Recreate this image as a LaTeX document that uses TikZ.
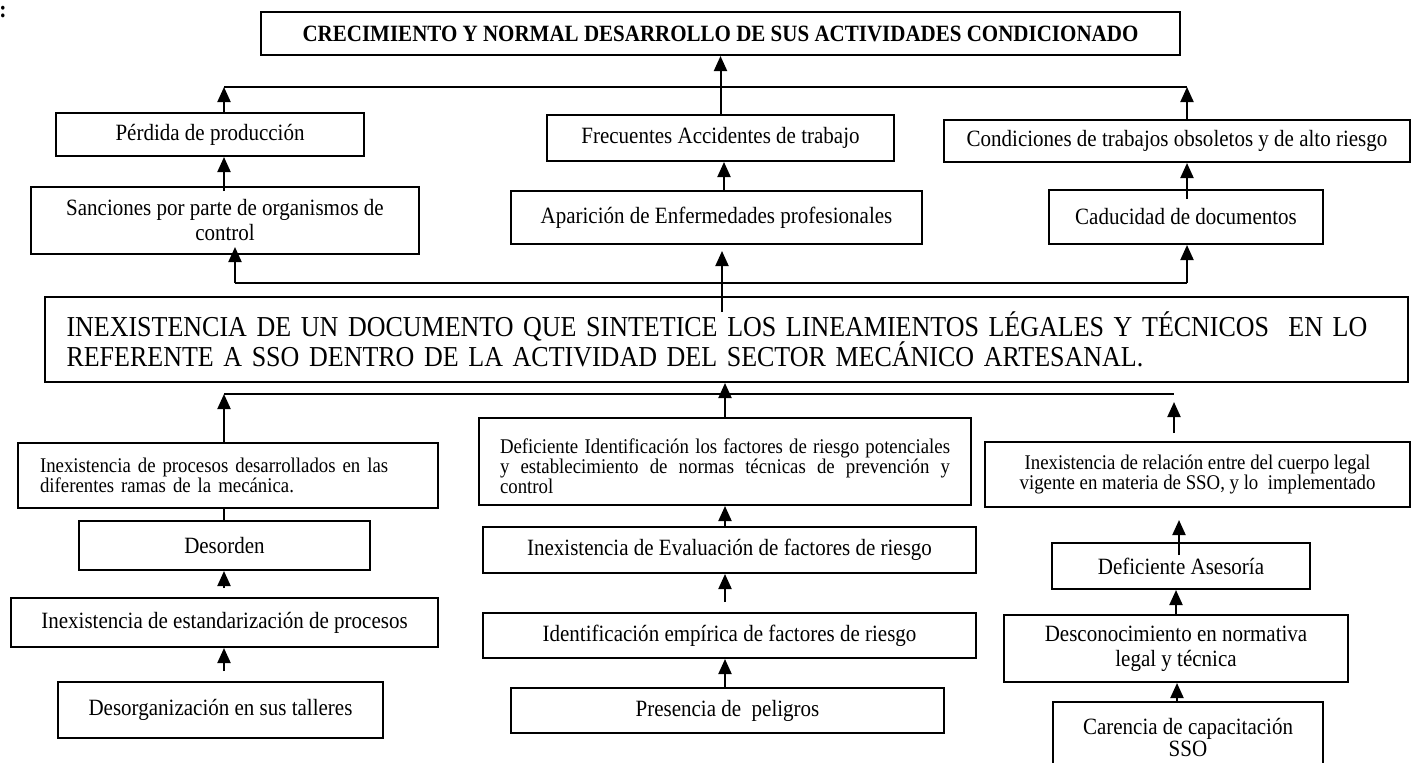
\documentclass[tikz,border=0pt]{standalone}
\usepackage{fontspec}
\setmainfont[FakeStretch=0.9]{Liberation Serif}
\usetikzlibrary{arrows.meta}
\begin{document}
\begin{tikzpicture}[x=0.5pt,y=-0.5pt,
  box/.style={draw,line width=1pt,fill=white,inner sep=0pt,align=center,
    font=\fontsize{11.67}{12.5}\selectfont},
  small/.style={font=\fontsize{10.45}{10}\selectfont},
  big/.style={font=\fontsize{14.44}{15}\selectfont},
  arr/.style={-{Triangle[length=7.5pt,width=6.5pt]},line width=1pt},
  link/.style={line width=0.8pt}]
\clip (0,0) rectangle (1412,762);
\useasboundingbox (0,0) rectangle (1412,762);
\node[font=\bfseries\fontsize{12}{12}\selectfont] (colon) at (3,12) {:};
% effects
\node[box,minimum width=459.5pt,minimum height=21.5pt,font=\bfseries\fontsize{11.67}{12}\selectfont] (top) at (720.5,33.5)
  {CRECIMIENTO Y NORMAL DESARROLLO DE SUS ACTIVIDADES CONDICIONADO};
\node[box,minimum width=154pt,minimum height=21.5pt] (perd) at (210,134.5) {Pérdida de producción};
\node[box,minimum width=194pt,minimum height=33.5pt] (sanc) at (225,220.5) {Sanciones por parte de organismos de\\control};
\node[box,minimum width=173.5pt,minimum height=23pt] (frec) at (720.5,138) {Frecuentes Accidentes de trabajo};
\node[box,minimum width=205.5pt,minimum height=26.5pt] (apar) at (716.5,217.5) {Aparición de Enfermedades profesionales};
\node[box,minimum width=233pt,minimum height=21pt] (cond) at (1177,141) {Condiciones de trabajos obsoletos y de alto riesgo};
\node[box,minimum width=137pt,minimum height=27pt] (cadu) at (1186,217) {Caducidad de documentos};
% main problem
\node[box,big,minimum width=681.5pt,minimum height=42.5pt,text width=660pt,align=left] (main) at (726.5,339.5)
  {INEXISTENCIA DE UN DOCUMENTO QUE SINTETICE LOS LINEAMIENTOS LÉGALES Y TÉCNICOS\ \ EN LO\\REFERENTE A SSO DENTRO DE LA ACTIVIDAD DEL SECTOR MECÁNICO ARTESANAL.};
% causes left
\node[box,small,minimum width=210pt,minimum height=32.5pt,text width=188pt,align=left] (proc) at (228,475.5)
  {Inexistencia de procesos desarrollados en las\\diferentes ramas de la mecánica.};
\node[box,minimum width=145.5pt,minimum height=24.5pt] (desord) at (224.5,545.5) {Desorden};
\node[box,minimum width=213.5pt,minimum height=24.5pt] (estan) at (224.5,622.5) {Inexistencia de estandarización de procesos};
\node[box,minimum width=162.5pt,minimum height=28pt] (desorg) at (220.5,710) {Desorganización en sus talleres};
% causes middle
\node[box,small,minimum width=246pt,minimum height=43.5pt,text width=225pt,align=justify] (defi) at (725,461.5)
  {\rule{0pt}{12pt}Deficiente Identificación los factores de riesgo potenciales\linebreak y establecimiento de normas técnicas de prevención y\linebreak control};
\node[box,minimum width=246.5pt,minimum height=23pt] (eval) at (729.5,550) {Inexistencia de Evaluación de factores de riesgo};
\node[box,minimum width=246.5pt,minimum height=22.5pt] (ident) at (729.5,635.5) {Identificación empírica de factores de riesgo};
\node[box,minimum width=216.5pt,minimum height=22.5pt] (pres) at (727.5,710.5) {Presencia de\ \ peligros};
% causes right
\node[box,small,minimum width=212.5pt,minimum height=32.5pt] (rel) at (1197.5,474.5)
  {Inexistencia de relación entre del cuerpo legal\\vigente en materia de SSO, y lo\ \ implementado};
\node[box,minimum width=129pt,minimum height=23pt] (ases) at (1181,566) {Deficiente Asesoría};
\node[box,minimum width=172pt,minimum height=33.5pt] (desc) at (1176,648.5) {Desconocimiento en normativa\\legal y técnica};
\node[box,minimum width=135pt,minimum height=35pt,font=\fontsize{11.67}{11}\selectfont] (care) at (1188,737) {Carencia de capacitación\\SSO};
% top connectors
\coordinate (tl) at (224,87);
\coordinate (tr) at (1187,87);
\draw[link] (tl) -- (tr);
\draw[arr] (perd.north -| tl) -- (tl);
\draw[arr] (cond.north -| tr) -- (tr);
\draw[arr] (frec.north) -- (frec.north |- top.south);
\draw[arr] ([yshift=-2.5pt]sanc.north -| tl) -- (perd.south -| tl);
\coordinate (ax) at (724,0);
\draw[arr] (apar.north -| ax) -- (frec.south -| ax);
\draw[arr] ([yshift=-5pt]cadu.north -| tr) -- (cond.south -| tr);
% effects lower connector
\coordinate (el) at (235,283);
\coordinate (er) at (1187,283);
\coordinate (em) at (722,312);
\draw[link] (el) -- (er);
\draw[arr] (el) -- ([yshift=4pt]sanc.south -| el);
\draw[arr] (em) -- ([yshift=-3pt]apar.south -| em);
\draw[arr] (er) -- (cadu.south -| er);
% causes connector
\coordinate (cl) at (224,394);
\coordinate (cr) at (1174,394);
\coordinate (rs) at (1174,433);
\coordinate (rt) at (1174,402);
\draw[link] (cl) -- (cr);
\draw[arr] (proc.north -| cl) -- (cl);
\draw[arr] (defi.north) -- (defi.north |- main.south);
\draw[arr] (rs) -- (rt);
% left column
\draw[link] (desord.north -| cl) -- (proc.south -| cl);
\draw[arr] ([yshift=4.5pt]estan.north -| cl) -- (desord.south -| cl);
\draw[arr] ([yshift=5pt]desorg.north -| cl) -- (estan.south -| cl);
% middle column
\draw[arr] (eval.north -| defi.north) -- (defi.south);
\draw[arr] ([yshift=5pt]ident.north -| defi.north) -- (eval.south -| defi.north);
\draw[arr] (pres.north -| defi.north) -- (ident.south -| defi.north);
% right column
\coordinate (ra) at (1179,555);
\coordinate (rb) at (1179,520);
\draw[arr] (ra) -- (rb);
\coordinate (rx) at (1176,0);
\draw[arr] (desc.north -| rx) -- (ases.south -| rx);
\coordinate (ry) at (1177,0);
\draw[arr] (care.north -| ry) -- (desc.south -| ry);
\end{tikzpicture}
\end{document}
